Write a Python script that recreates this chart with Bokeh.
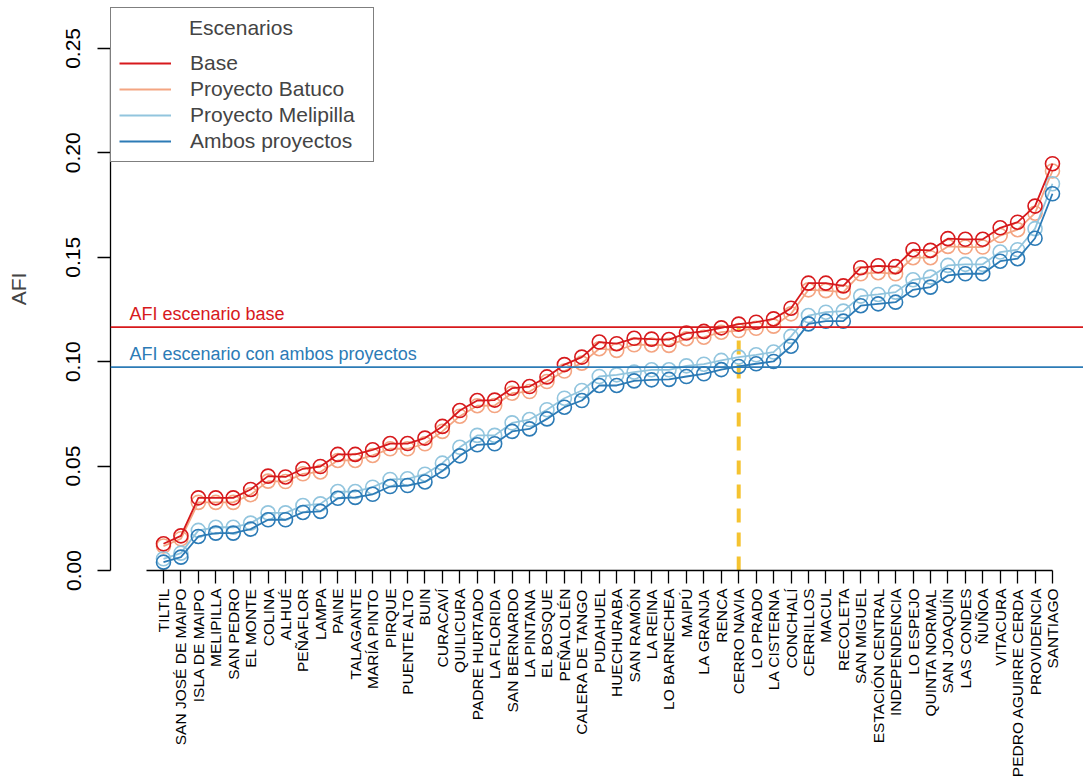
import math
from bokeh.plotting import figure
from bokeh.models import (Range1d, FixedTicker, Span, Label, Legend, LegendItem,
                          ColumnDataSource, NumeralTickFormatter)
from bokeh.embed import file_html
from bokeh.resources import INLINE

comunas = ["TILTIL", "SAN JOSÉ DE MAIPO", "ISLA DE MAIPO", "MELIPILLA", "SAN PEDRO",
           "EL MONTE", "COLINA", "ALHUÉ", "PEÑAFLOR", "LAMPA", "PAINE", "TALAGANTE",
           "MARÍA PINTO", "PIRQUE", "PUENTE ALTO", "BUIN", "CURACAVÍ", "QUILICURA",
           "PADRE HURTADO", "LA FLORIDA", "SAN BERNARDO", "LA PINTANA", "EL BOSQUE",
           "PEÑALOLÉN", "CALERA DE TANGO", "PUDAHUEL", "HUECHURABA", "SAN RAMÓN",
           "LA REINA", "LO BARNECHEA", "MAIPÚ", "LA GRANJA", "RENCA", "CERRO NAVIA",
           "LO PRADO", "LA CISTERNA", "CONCHALÍ", "CERRILLOS", "MACUL", "RECOLETA",
           "SAN MIGUEL", "ESTACIÓN CENTRAL", "INDEPENDENCIA", "LO ESPEJO",
           "QUINTA NORMAL", "SAN JOAQUÍN", "LAS CONDES", "ÑUÑOA", "VITACURA",
           "PEDRO AGUIRRE CERDA", "PROVIDENCIA", "SANTIAGO"]

base = [0.0128, 0.0166, 0.0348, 0.0348, 0.0348, 0.0388, 0.0452, 0.0448, 0.0487, 0.0498,
        0.0556, 0.0556, 0.0578, 0.0608, 0.0608, 0.0634, 0.0690, 0.0766, 0.0814, 0.0816,
        0.0873, 0.0881, 0.0927, 0.0986, 0.1022, 0.1094, 0.1086, 0.1112, 0.1108, 0.1106,
        0.1137, 0.1145, 0.1162, 0.1180, 0.1189, 0.1205, 0.1256, 0.1376, 0.1376, 0.1363,
        0.1450, 0.1459, 0.1455, 0.1536, 0.1533, 0.1589, 0.1586, 0.1586, 0.1641, 0.1668,
        0.1745, 0.1948]

batuco = [0.0117, 0.0152, 0.0326, 0.0326, 0.0326, 0.0363, 0.0428, 0.0426, 0.0463, 0.0472,
          0.0527, 0.0527, 0.0551, 0.0583, 0.0583, 0.0607, 0.0666, 0.0739, 0.0789, 0.0790,
          0.0849, 0.0857, 0.0905, 0.0955, 0.0993, 0.1062, 0.1054, 0.1081, 0.1080, 0.1078,
          0.1110, 0.1117, 0.1141, 0.1149, 0.1160, 0.1170, 0.1229, 0.1344, 0.1340, 0.1333,
          0.1421, 0.1426, 0.1421, 0.1498, 0.1498, 0.1552, 0.1549, 0.1549, 0.1604, 0.1632,
          0.1711, 0.1913]

melipilla = [0.0056, 0.0083, 0.0192, 0.0207, 0.0207, 0.0227, 0.0276, 0.0276, 0.0311, 0.0319,
             0.0378, 0.0378, 0.0399, 0.0436, 0.0439, 0.0461, 0.0514, 0.0590, 0.0647, 0.0647,
             0.0707, 0.0723, 0.0770, 0.0825, 0.0862, 0.0929, 0.0937, 0.0950, 0.0961, 0.0961,
             0.0980, 0.0988, 0.1006, 0.1022, 0.1033, 0.1046, 0.1121, 0.1221, 0.1237, 0.1242,
             0.1314, 0.1322, 0.1333, 0.1392, 0.1405, 0.1461, 0.1466, 0.1466, 0.1525, 0.1536,
             0.1637, 0.1852]

ambos = [0.0040, 0.0064, 0.0163, 0.0179, 0.0179, 0.0198, 0.0243, 0.0243, 0.0278, 0.0283,
         0.0346, 0.0350, 0.0365, 0.0402, 0.0407, 0.0424, 0.0476, 0.0549, 0.0602, 0.0607,
         0.0666, 0.0678, 0.0726, 0.0782, 0.0814, 0.0886, 0.0886, 0.0908, 0.0913, 0.0915,
         0.0929, 0.0942, 0.0962, 0.0977, 0.0990, 0.1001, 0.1074, 0.1181, 0.1194, 0.1194,
         0.1268, 0.1277, 0.1285, 0.1344, 0.1357, 0.1413, 0.1421, 0.1421, 0.1481, 0.1493,
         0.1591, 0.1804]

afi_base = 0.1165
afi_ambos = 0.0974
comuna_destacada = "CERRO NAVIA"
y_ticks = [0.0, 0.05, 0.10, 0.15, 0.20, 0.25]

series_names = ["Base", "Proyecto Batuco", "Proyecto Melipilla", "Ambos proyectos"]
legend_title = "Escenarios"
colors = ["#D7191C", "#F4A582", "#92C5DE", "#2C7BB6"]

FONT = "Liberation Sans"
xs = list(range(1, len(comunas) + 1))

p = figure(width=1083, height=784, output_backend="svg", toolbar_location=None,
           x_range=Range1d(-2.04, 53.78), y_range=Range1d(0, 0.2696),
           min_border_left=110, min_border_right=0, min_border_top=7,
           min_border_bottom=214)
p.outline_line_color = None
p.xgrid.visible = False
p.ygrid.visible = False
p.background_fill_color = "white"
p.border_fill_color = "white"

# axes
xa = p.xaxis[0]
xa.ticker = FixedTicker(ticks=xs)
xa.major_label_overrides = {i: n for i, n in zip(xs, comunas)}
xa.major_label_orientation = math.pi / 2
xa.bounds = (0, len(comunas))
xa.minor_tick_line_color = None
xa.major_tick_in = 0
xa.major_tick_out = 13
xa.major_label_standoff = 5
xa.major_label_text_font = FONT
xa.major_label_text_font_size = "15.5px"
xa.major_label_text_color = "black"
xa.axis_line_color = "black"
xa.axis_line_width = 1.3
xa.major_tick_line_width = 1.3

ya = p.yaxis[0]
ya.ticker = FixedTicker(ticks=y_ticks)
ya.formatter = NumeralTickFormatter(format="0.00")
ya.bounds = (0, 0.25)
ya.major_label_orientation = "vertical"
ya.minor_tick_line_color = None
ya.major_tick_in = 0
ya.major_tick_out = 13
ya.major_label_standoff = 17
ya.major_label_text_font = FONT
ya.major_label_text_font_size = "21px"
ya.major_label_text_color = "black"
ya.axis_label = "AFI"
ya.axis_label_text_font = FONT
ya.axis_label_text_font_size = "21px"
ya.axis_label_text_font_style = "normal"
ya.axis_label_standoff = 34
ya.axis_line_color = "black"
ya.axis_line_width = 1.3
ya.major_tick_line_width = 1.3

# reference lines
p.add_layout(Span(location=afi_base, dimension="width", line_color=colors[0], line_width=1.8))
p.add_layout(Span(location=afi_ambos, dimension="width", line_color=colors[3], line_width=1.8))
p.add_layout(Label(x=19, x_units="screen", y=afi_base, y_offset=13, text="AFI escenario base",
                   text_color=colors[0], text_font=FONT, text_font_size="18px",
                   text_baseline="alphabetic"))
p.add_layout(Label(x=19, x_units="screen", y=afi_ambos, y_offset=13,
                   text="AFI escenario con ambos proyectos",
                   text_color=colors[3], text_font=FONT, text_font_size="18px",
                   text_baseline="alphabetic"))

# highlighted commune
idx = comunas.index(comuna_destacada)
hl = ColumnDataSource(dict(x0=[xs[idx]], y0=[0.0], x1=[xs[idx]], y1=[afi_base]))
p.segment(x0="x0", y0="y0", x1="x1", y1="y1", source=hl, line_color="#F5C330",
          line_width=4, line_dash="14 10")

# series
all_series = [base, batuco, melipilla, ambos]
renderers = {}
for k in [1, 2, 0, 3]:
    src = ColumnDataSource(dict(x=xs, y=all_series[k]))
    r = p.line("x", "y", source=src, line_color=colors[k], line_width=1.8)
    p.scatter("x", "y", source=src, marker="circle", size=14, fill_color=None,
              line_color=colors[k], line_width=1.6)
    renderers[k] = r

# title centred over the legend box (non-breaking spaces keep the indent)
legend = Legend(items=[LegendItem(label=series_names[k], renderers=[renderers[k]]) for k in range(4)],
                location="top_left", title="\u00a0" * 12 + legend_title)
legend.margin = 0
legend.padding = 8
legend.spacing = 2
legend.glyph_width = 52
legend.glyph_height = 20
legend.label_height = 20
legend.label_width = 175
legend.label_standoff = 19
legend.label_text_font = FONT
legend.label_text_font_size = "21px"
legend.title_text_font = FONT
legend.title_text_font_size = "21px"
legend.title_text_font_style = "normal"
legend.title_standoff = 11
legend.border_line_color = "black"
legend.border_line_width = 1.3
legend.background_fill_alpha = 1.0
p.add_layout(legend)

open("out.html", "w").write(file_html(p, INLINE))
